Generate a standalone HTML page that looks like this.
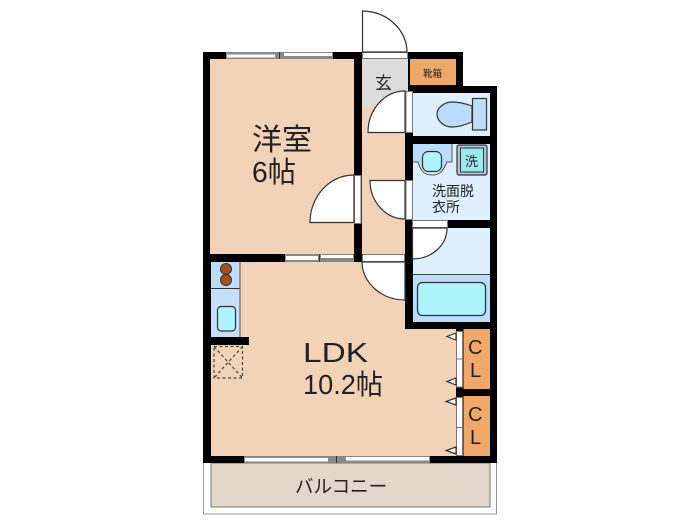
<!DOCTYPE html>
<html><head><meta charset="utf-8"><style>
html,body{margin:0;padding:0;background:#fff;width:700px;height:525px;overflow:hidden}
svg{display:block}
text{font-family:"Liberation Sans","Noto Sans CJK JP",sans-serif;fill:#222}
</style></head><body>
<svg width="700" height="525" viewBox="0 0 700 525" xmlns="http://www.w3.org/2000/svg">
<!-- balcony -->
<rect x="203.500" y="460" width="293" height="54" fill="#fff" stroke="#999" stroke-width="1"/>
<rect x="211" y="463" width="279" height="44" fill="#e3d6cb" stroke="#777" stroke-width="1"/>
<!-- walls base -->
<path d="M203 52H463V86H497V463H203Z" fill="#000"/>
<!-- rooms -->
<rect x="210" y="59" width="144" height="195" fill="#f3d3b8"/>
<rect x="362" y="59" width="43" height="195" fill="#f3d3b8"/>
<path d="M211 262H405V329H456V456H211Z" fill="#f3d3b8"/>
<rect x="362" y="59" width="46" height="47" fill="#dcdcdc"/>
<rect x="410" y="59" width="46" height="26" fill="#f0a868"/>
<rect x="413" y="93" width="77" height="43" fill="#deefff"/>
<rect x="413" y="144" width="77" height="76" fill="#deefff"/>
<rect x="413" y="228" width="77" height="46" fill="#deefff"/>
<rect x="413" y="274" width="77" height="48" fill="#bcdcfb"/>
<line x1="413" y1="274.500" x2="490" y2="274.500" stroke="#444" stroke-width="1"/>
<rect x="463.500" y="329" width="26.500" height="60" fill="#f0a868"/>
<rect x="463.500" y="396" width="26.500" height="60" fill="#f0a868"/>
<!-- wall bits -->
<rect x="211" y="254" width="75" height="8" fill="#000"/>
<rect x="211" y="337" width="38" height="8" fill="#000"/>
<!-- windows -->
<g fill="#888">
<rect x="226" y="52" width="107" height="7"/>
<rect x="285" y="254" width="69" height="8"/>
<rect x="244" y="456" width="186" height="7"/>
</g>
<g fill="#fff">
<rect x="227" y="54.500" width="48" height="3"/>
<rect x="284" y="53" width="48" height="3"/>
<rect x="286" y="256" width="32" height="4"/>
<rect x="321" y="255" width="32" height="3"/>
<rect x="245" y="458" width="83" height="3.500"/>
<rect x="346" y="457" width="83" height="3.500"/>
</g>
<g stroke="#333" stroke-width="1">
<line x1="279.500" y1="52" x2="279.500" y2="59"/>
<line x1="319.500" y1="254" x2="319.500" y2="262"/>
<line x1="336.500" y1="456" x2="336.500" y2="463"/>
</g>
<g fill="#fff" stroke="#777" stroke-width="1">
<!-- door openings -->
<rect x="362.500" y="52.500" width="45" height="6"/>
<rect x="362.500" y="254.500" width="42" height="7"/>
<rect x="412.500" y="220.500" width="35" height="7"/>
<rect x="354.500" y="175.500" width="6.500" height="48"/>
<rect x="406" y="91.500" width="6.500" height="41"/>
<rect x="406" y="180.500" width="6.500" height="39"/>
<!-- CL sliders -->
<rect x="456.500" y="331.500" width="6" height="27.500"/>
<rect x="456.500" y="359" width="6" height="28"/>
<rect x="456.500" y="397.500" width="6" height="30"/>
<rect x="456.500" y="427.500" width="6" height="28"/>
</g>
<!-- door swings -->
<g fill="#fff" stroke="#333" stroke-width="1.200">
<path d="M362.500 52V11C387 11 407 30 407 52Z"/>
<path d="M405 91C384 91 368 110 368 132.500H405Z"/>
<path d="M354 175C329 175 310 197 310 222.500H354Z"/>
<path d="M405 180.500H370C370 202 386 219 405 219Z"/>
<path d="M412.500 228H447C447 246 431 259 412.500 259Z"/>
<path d="M362 262H405V300C382 300 362 283 362 262Z"/>
</g>
<!-- CL arrows -->
<g fill="#fff" stroke="#333" stroke-width="1.200">
<path d="M456 333L447 336.500L456 340Z"/>
<path d="M456 378L447 381.500L456 385Z"/>
<path d="M456 398L446 401.500L456 405Z"/>
<path d="M456 447L446 450.500L456 454Z"/>
</g>
<!-- kitchen -->
<rect x="211" y="262" width="29" height="26" fill="#bcdcfb"/>
<rect x="211" y="288" width="29" height="49" fill="#c4defc"/>
<line x1="211" y1="288.500" x2="240" y2="288.500" stroke="#333" stroke-width="1"/>
<line x1="240" y1="262" x2="240" y2="337" stroke="#555" stroke-width="1"/>
<circle cx="226" cy="269" r="5.500" fill="#a5521b" stroke="#333"/>
<circle cx="226" cy="280" r="5.500" fill="#a5521b" stroke="#333"/>
<rect x="217.500" y="306.500" width="18" height="24.500" rx="3.500" fill="#aef3fb" stroke="#333" stroke-width="1.200"/>
<!-- hatch -->
<g fill="none" stroke="#444" stroke-width="1.200" stroke-dasharray="3 2.500">
<rect x="214" y="346.500" width="28.500" height="31.500"/>
<path d="M214 346.500L242.500 378M242.500 346.500L214 378"/>
</g>
<!-- toilet -->
<rect x="472.500" y="98.500" width="14" height="31.500" fill="#bcdcfb" stroke="#333" stroke-width="1.200"/>
<path d="M472 106C464 103 458 102 452 102C444 102 437 108 437 114C437 121 444 127 452 127C458 127 465 125 472 122Z" fill="#bcdcfb" stroke="#333" stroke-width="1.200"/>
<!-- washroom -->
<path d="M413 144H452V162H447L443 169C440 173 425 173 422 169L418 162H413Z" fill="#bcdcfb"/>
<path d="M413 162H418C420 168 422 175 432 175C442 175 444 168 447 162H452V144" fill="none" stroke="#555" stroke-width="1"/>
<rect x="422.500" y="151.500" width="19" height="20" rx="6" fill="#aef3fb" stroke="#333" stroke-width="1.200"/>
<rect x="457" y="145" width="30" height="30" rx="2" fill="#b0c4d8" stroke="#333" stroke-width="1.200"/>
<rect x="460.500" y="148" width="23" height="24" fill="#9fe9f1" stroke="#333" stroke-width="1"/>
<!-- bath -->
<rect x="417.500" y="282.500" width="68" height="33" rx="5" fill="#aef3fb" stroke="#333" stroke-width="1.300"/>
<!-- labels -->
<text x="252" y="150" font-size="30">洋室</text>
<text x="252" y="182" font-size="29" textLength="44" lengthAdjust="spacingAndGlyphs">6帖</text>
<text x="303" y="362" font-size="28" textLength="65" lengthAdjust="spacingAndGlyphs">LDK</text>
<text x="303" y="394" font-size="28" textLength="80" lengthAdjust="spacingAndGlyphs">10.2帖</text>
<text x="375" y="89" font-size="17">玄</text>
<text x="423" y="77" font-size="9.500">靴箱</text>
<text x="465" y="166" font-size="13">洗</text>
<text x="432" y="196" font-size="14">洗面脱</text>
<text x="432" y="212" font-size="14">衣所</text>
<text x="468" y="354" font-size="20">C</text>
<text x="470" y="377" font-size="20">L</text>
<text x="468" y="421" font-size="20">C</text>
<text x="470" y="444" font-size="20">L</text>
<text x="295" y="493" font-size="18.500">バルコニー</text>
</svg>
</body></html>
